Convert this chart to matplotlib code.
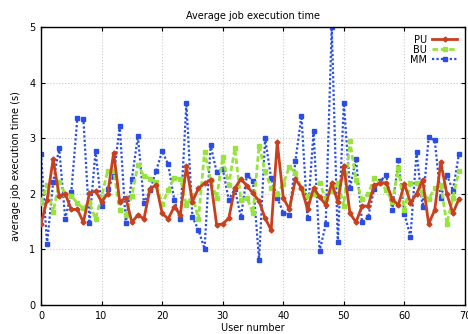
import matplotlib
matplotlib.use("Agg")
import matplotlib.pyplot as plt
import numpy as np

users = list(range(70))
pu = [1.46, 1.89, 2.62, 1.97, 2.0, 1.72, 1.72, 1.49, 2.01, 2.05, 1.86, 2.0, 2.74, 1.86, 1.93, 1.49, 1.62,
      1.55, 2.09, 2.16, 1.65, 1.55, 1.77, 1.62, 2.50, 1.86, 2.10, 2.19, 2.25, 1.44, 1.46, 1.56, 2.10, 2.27,
      2.14, 2.01, 1.87, 1.56, 1.35, 2.93, 1.93, 1.72, 2.26, 2.11, 1.72, 2.10, 1.95, 1.80, 2.19, 1.86, 2.51,
      1.65, 1.49, 1.78, 1.78, 2.16, 2.19, 2.20, 1.90, 1.80, 2.18, 1.84, 2.0, 2.25, 1.46, 1.71, 2.57, 2.0,
      1.65, 1.91]
bu = [1.84, 2.16, 1.67, 2.21, 2.0, 1.97, 1.83, 1.74, 1.85, 1.55, 1.95, 2.41, 2.41, 1.71, 1.62, 1.97, 2.52,
      2.32, 2.27, 2.21, 1.81, 2.07, 2.29, 2.27, 1.80, 1.98, 1.55, 2.76, 2.25, 1.93, 2.66, 2.16, 2.82, 1.89,
      1.93, 1.65, 2.87, 2.41, 2.10, 2.0, 2.18, 2.49, 2.37, 2.10, 1.97, 2.0, 2.20, 1.91, 2.06, 2.19, 1.79,
      2.95, 2.25, 1.90, 2.0, 2.28, 2.19, 2.07, 1.86, 2.46, 1.71, 2.20, 2.20, 2.0, 1.91, 2.10, 2.16, 1.46,
      1.93, 2.41]
mm = [2.72, 1.10, 2.21, 2.83, 1.55, 2.03, 3.36, 3.34, 1.47, 2.77, 1.78, 2.08, 2.32, 3.22, 1.47, 2.27, 3.04,
      1.83, 2.07, 2.41, 2.77, 2.53, 1.89, 1.55, 3.63, 1.58, 1.35, 1.01, 2.88, 2.39, 2.45, 1.89, 2.09, 1.58,
      2.34, 2.23, 0.81, 3.00, 2.28, 1.93, 1.66, 1.62, 2.59, 3.40, 1.56, 3.13, 0.97, 1.45, 5.0, 1.13, 3.63,
      2.10, 2.63, 1.49, 1.58, 2.09, 2.23, 2.34, 1.71, 2.61, 1.64, 1.23, 2.75, 1.77, 3.02, 2.96, 1.93, 2.34,
      2.06, 2.72]

fig = plt.figure(figsize=(4.68, 3.34), dpi=100)
ax = fig.add_axes([0.0876, 0.0868, 0.906, 0.832])

ax.plot(users, pu, color="#c8401e", lw=2.0, ls="-", marker="D", ms=2.5, label="PU", zorder=4)
ax.plot(users, bu, color="#98e43c", lw=2.0, ls=(0, (2, 1)), marker="s", ms=3, label="BU", zorder=3)
ax.plot(users, mm, color="#2a4de8", lw=1.6, ls=(0, (1, 1)), marker="s", ms=3.2, label="MM", zorder=2)

ax.set_xlim(0, 70)
ax.set_ylim(0, 5)
ax.set_xticks(range(0, 71, 10))
ax.set_yticks(range(0, 6))
ax.tick_params(direction="in", top=True, right=True, labelsize=7, length=3, pad=4)
ax.grid(True, color="#cccccc", ls=":", lw=0.8)
for s in ax.spines.values():
    s.set_linewidth(1.0)

ax.set_title("Average job execution time", fontsize=7, pad=6)
ax.set_xlabel("User number", fontsize=7, labelpad=2)
ax.set_ylabel("average job execution time (s)", fontsize=7, labelpad=6)

leg = ax.legend(loc="upper right", frameon=False, fontsize=7, markerfirst=False,
                handlelength=2.6, labelspacing=0.0, borderaxespad=0.4, handletextpad=0.5)

fig.savefig("out.png", dpi=100)
